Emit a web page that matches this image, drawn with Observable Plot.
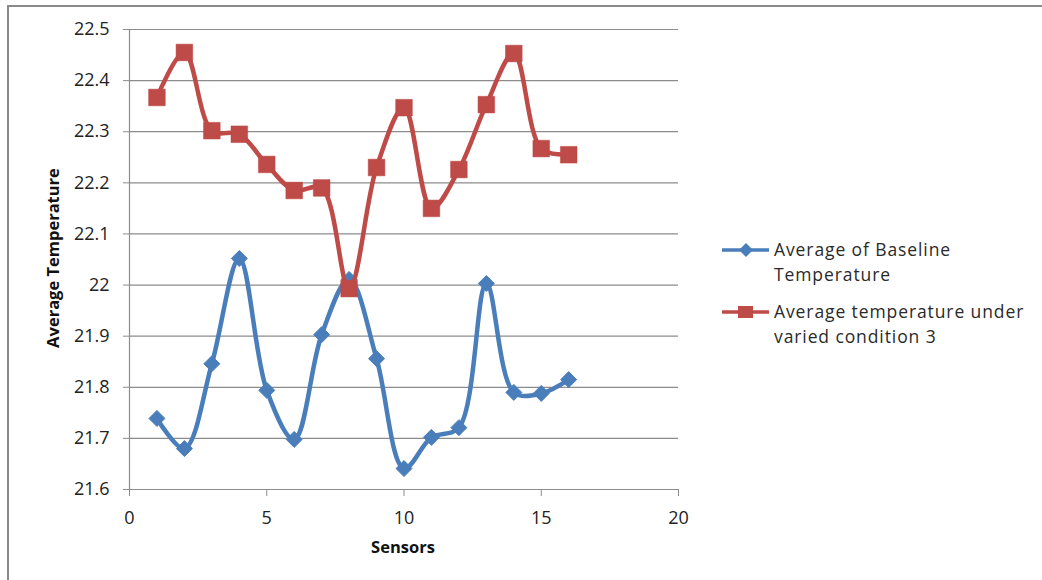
<!DOCTYPE html>
<html>
<head>
<meta charset="utf-8">
<script src="https://cdn.jsdelivr.net/npm/d3@7"></script>
<script src="https://cdn.jsdelivr.net/npm/@observablehq/plot@0.6"></script>
<style>
  html, body { margin: 0; padding: 0; background: #fff; }
  #wrap { position: relative; width: 1042px; height: 580px; overflow: hidden; font-family: "Open Sans", Lato, sans-serif; }
  #frame { position: absolute; left: 7px; top: 5px; right: -10px; bottom: -10px; border-left: 2px solid #8a8a8a; border-top: 2px solid #8a8a8a; pointer-events: none; }
  .lab { position: absolute; font-weight: bold; font-size: 16.5px; color: #111; white-space: nowrap; }
  #ylab { left: 52px; top: 258px; transform: translate(-50%, -50%) rotate(-90deg); }
  #xlab { left: 403px; top: 546px; transform: translate(-50%, -50%); }
  #legend { position: absolute; left: 722px; top: 237px; font-size: 17.5px; color: #2a2a2a; letter-spacing: 0.9px; }
  .item { display: flex; align-items: flex-start; margin-bottom: 13px; }
  .item svg { flex: none; margin-top: 5px; margin-right: 4px; }
  .item div { line-height: 24.5px; }
</style>
</head>
<body>
<div id="wrap">
  <div id="chart"></div>
  <div id="frame"></div>
  <div class="lab" id="ylab">Average Temperature</div>
  <div class="lab" id="xlab">Sensors</div>
  <div id="legend"></div>
</div>
<script>
const sensors = [1, 2, 3, 4, 5, 6, 7, 8, 9, 10, 11, 12, 13, 14, 15, 16];
const baseline = [21.739, 21.680, 21.846, 22.052, 21.794, 21.698, 21.903, 22.011, 21.856, 21.641, 21.702, 21.721, 22.003, 21.790, 21.788, 21.815];
const condition3 = [22.367, 22.455, 22.302, 22.295, 22.236, 22.185, 22.190, 21.993, 22.230, 22.347, 22.150, 22.226, 22.353, 22.453, 22.267, 22.255];
const seriesNames = ["Average of Baseline Temperature", "Average temperature under varied condition 3"];
const xTicks = [0, 5, 10, 15, 20];
const yTicks = [21.6, 21.7, 21.8, 21.9, 22, 22.1, 22.2, 22.3, 22.4, 22.5];

const blue = "#4a7ebb";
const red = "#be4b48";

const baseData = sensors.map((s, i) => ({sensor: s, value: baseline[i]}));
const condData = sensors.map((s, i) => ({sensor: s, value: condition3[i]}));

const chart = Plot.plot({
  width: 1042,
  height: 580,
  marginLeft: 129,
  marginRight: 364,
  marginTop: 29,
  marginBottom: 91,
  style: {fontFamily: '"Open Sans", Lato, sans-serif', fontSize: "18px", color: "#222", background: "transparent"},
  x: {domain: [0, 20]},
  y: {domain: [21.6, 22.5]},
  marks: [
    Plot.gridY(yTicks, {stroke: "#8c8c8c", strokeOpacity: 1, strokeWidth: 1.2}),
    Plot.axisY(yTicks, {tickSize: 6, tickPadding: 14, fontSize: 18, stroke: "#8c8c8c", label: null, tickFormat: d => String(+d.toFixed(1)), fill: "#222", style: {letterSpacing: "1px"}}),
    Plot.axisX(xTicks, {tickSize: 7, tickPadding: 15, fontSize: 18, stroke: "#8c8c8c", label: null, fill: "#222", style: {letterSpacing: "1px"}}),
    Plot.ruleX([0], {stroke: "#8c8c8c", strokeWidth: 1.2}),
    Plot.ruleY([21.6], {stroke: "#8c8c8c", strokeWidth: 1.2}),
    Plot.line(baseData, {x: "sensor", y: "value", stroke: blue, strokeWidth: 4.5, curve: "catmull-rom"}),
    Plot.dot(baseData, {x: "sensor", y: "value", symbol: "diamond2", r: 7.2, fill: blue, stroke: blue, strokeWidth: 1}),
    Plot.line(condData, {x: "sensor", y: "value", stroke: red, strokeWidth: 4.5, curve: "catmull-rom"}),
    Plot.dot(condData, {x: "sensor", y: "value", symbol: "square", r: 9.4, fill: red, stroke: red, strokeWidth: 0.5})
  ]
});
document.getElementById("chart").appendChild(chart);

// Legend
const legend = d3.select("#legend");
const lines = [["Average of Baseline", "Temperature"], ["Average temperature under", "varied condition 3"]];
[[blue, "diamond"], [red, "square"]].forEach(([c, shape], i) => {
  const item = legend.append("div").attr("class", "item");
  const svg = item.append("svg").attr("width", 48).attr("height", 16);
  svg.append("line").attr("x1", 0).attr("x2", 47).attr("y1", 8).attr("y2", 8).attr("stroke", c).attr("stroke-width", 3.5);
  if (shape === "diamond") {
    svg.append("path").attr("d", "M24,1 L31,8 L24,15 L17,8 Z").attr("fill", c);
  } else {
    svg.append("rect").attr("x", 16).attr("y", 2).attr("width", 15).attr("height", 12).attr("fill", c);
  }
  item.append("div").html(lines[i].join("<br>")).attr("title", seriesNames[i]);
});
</script>
</body>
</html>
